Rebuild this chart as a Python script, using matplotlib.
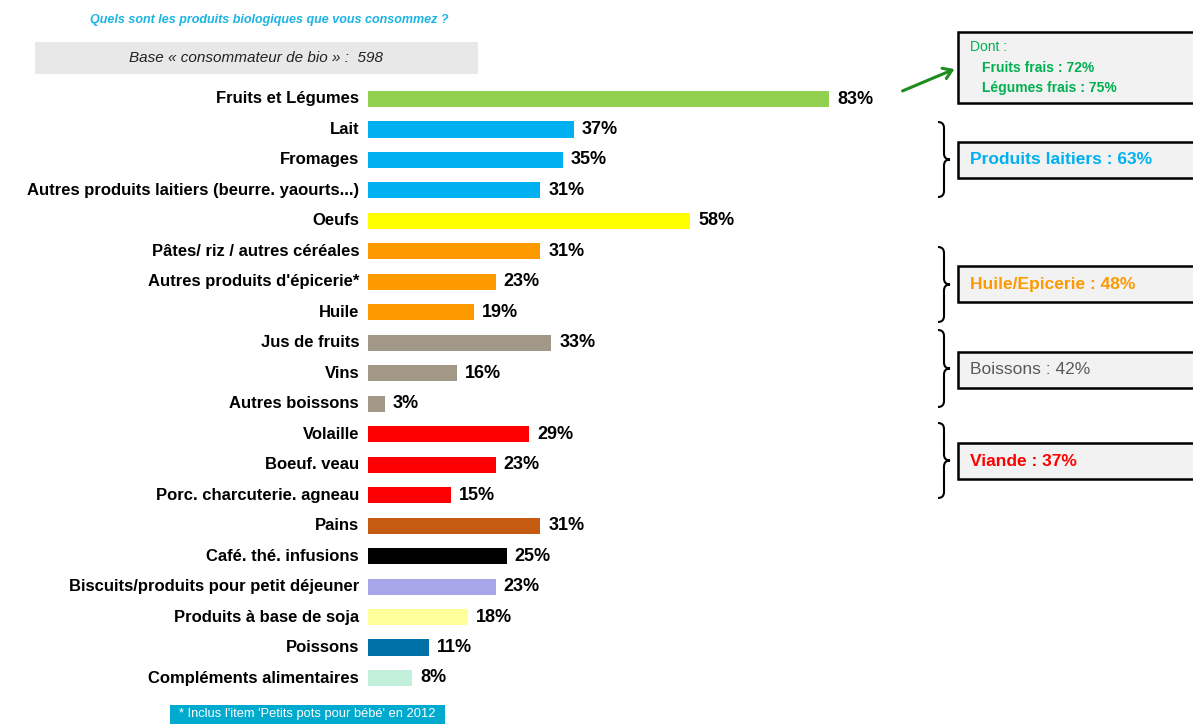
import matplotlib.pyplot as plt
from matplotlib.patches import Rectangle, PathPatch, FancyArrowPatch
from matplotlib.path import Path

# Data
labels = ['Fruits et Légumes', 'Lait', 'Fromages',
          'Autres produits laitiers (beurre. yaourts...)', 'Oeufs',
          'Pâtes/ riz / autres céréales', "Autres produits d'épicerie*",
          'Huile', 'Jus de fruits', 'Vins', 'Autres boissons', 'Volaille',
          'Boeuf. veau', 'Porc. charcuterie. agneau', 'Pains',
          'Café. thé. infusions', 'Biscuits/produits pour petit déjeuner',
          'Produits à base de soja', 'Poissons', 'Compléments alimentaires']
values = [83, 37, 35, 31, 58, 31, 23, 19, 33, 16, 3, 29, 23, 15, 31, 25, 23, 18, 11, 8]
colors = ['#92D050', '#00B0F0', '#00B0F0', '#00B0F0', '#FFFF00',
          '#FF9900', '#FF9900', '#FF9900', '#A29888', '#A29888', '#A29888',
          '#FF0000', '#FF0000', '#FF0000', '#C55A11', '#000000',
          '#A6A6E8', '#FFFF99', '#0070A8', '#C2F0DA']

groups = [('Produits laitiers : 63%', '#00B0F0', 'bold', 142, 122, 197),
          ('Huile/Epicerie : 48%', '#FF9900', 'bold', 266, 247, 322),
          ('Boissons : 42%', '#595959', 'normal', 352, 330, 407),
          ('Viande : 37%', '#FF0000', 'bold', 443, 423, 498)]

W, H = 1193, 724
fig = plt.figure(figsize=(W / 100, H / 100), dpi=100)
plt.rcParams['font.family'] = ['Liberation Sans', 'DejaVu Sans']


def fx(x):
    return x / W


def fy(y):
    return 1 - y / H


# bar area: x from 368 px, 5.56 px per %, rows about 30.5 px apart
n = len(labels)
row = (678 - 99) / (n - 1)
top = 99 - row / 2
ax = fig.add_axes([fx(368), fy(top + n * row), 556 / W, n * row / H])
ypos = list(range(n))
ax.barh(ypos, values, height=0.53, color=colors)
ax.set_xlim(0, 100)
ax.set_ylim(n - 0.5, -0.5)
ax.axis('off')
for i, (lab, v) in enumerate(zip(labels, values)):
    ax.text(-1.6, i, lab, ha='right', va='center', fontsize=12,
            fontweight='bold', color='black')
    ax.text(v + 1.4, i, f'{v}%', ha='left', va='center', fontsize=13,
            fontweight='bold', color='black')

# title and base box
fig.text(fx(90), fy(20), 'Quels sont les produits biologiques que vous consommez ?',
         ha='left', va='center', fontsize=9, style='italic', fontweight='bold',
         color='#1BB4E4')
fig.patches.append(Rectangle((fx(35), fy(74)), fx(443), 32 / H, transform=fig.transFigure,
                             facecolor='#E8E8E8', edgecolor='none'))
fig.text(fx(256), fy(58), 'Base « consommateur de bio » :  598', ha='center', va='center',
         fontsize=11, style='italic', color='#222222')

# right side boxes
def box(y0, y1):
    fig.patches.append(Rectangle((fx(958), fy(y1)), fx(240), (y1 - y0) / H,
                                 transform=fig.transFigure, facecolor='#F2F2F2',
                                 edgecolor='black', linewidth=1.8))


def brace(x, y0, y1):
    m = (y0 + y1) / 2
    pts = [(x - 6, y0), (x, y0), (x, y0 + 6), (x, y0 + 8),
           (x, m - 6), (x, m), (x + 6, m),
           (x, m), (x, m + 6),
           (x, y1 - 8), (x, y1 - 6), (x, y1), (x - 6, y1)]
    codes = [Path.MOVETO, Path.CURVE3, Path.CURVE3, Path.LINETO,
             Path.LINETO, Path.CURVE3, Path.CURVE3,
             Path.CURVE3, Path.CURVE3,
             Path.LINETO, Path.LINETO, Path.CURVE3, Path.CURVE3]
    p = Path([(fx(a), fy(b)) for a, b in pts], codes)
    fig.patches.append(PathPatch(p, transform=fig.transFigure, facecolor='none',
                                 edgecolor='black', linewidth=1.5))


box(32, 103)
fig.text(fx(970), fy(47), 'Dont :', ha='left', va='center', fontsize=10, color='#00B050')
fig.text(fx(982), fy(68), 'Fruits frais : 72%', ha='left', va='center', fontsize=10,
         fontweight='bold', color='#00B050')
fig.text(fx(982), fy(88), 'Légumes frais : 75%', ha='left', va='center', fontsize=10,
         fontweight='bold', color='#00B050')
fig.patches.append(FancyArrowPatch((fx(900), fy(92)), (fx(957), fy(68)),
                                   transform=fig.transFigure, arrowstyle='->,head_length=6,head_width=4',
                                   color='#1E8C1E', linewidth=2.2))

for text, col, weight, y0, b0, b1 in groups:
    box(y0, y0 + 36)
    fig.text(fx(970), fy(y0 + 18), text, ha='left', va='center', fontsize=12.5,
             fontweight=weight, color=col)
    brace(944, b0, b1)

# footnote
fig.patches.append(Rectangle((fx(170), 0), fx(275), 19 / H, transform=fig.transFigure,
                             facecolor='#00A9CE', edgecolor='none'))
fig.text(fx(307), fy(714), "* Inclus l'item 'Petits pots pour bébé' en 2012", ha='center',
         va='center', fontsize=9.3, color='white')

fig.savefig('out.png', dpi=100)
